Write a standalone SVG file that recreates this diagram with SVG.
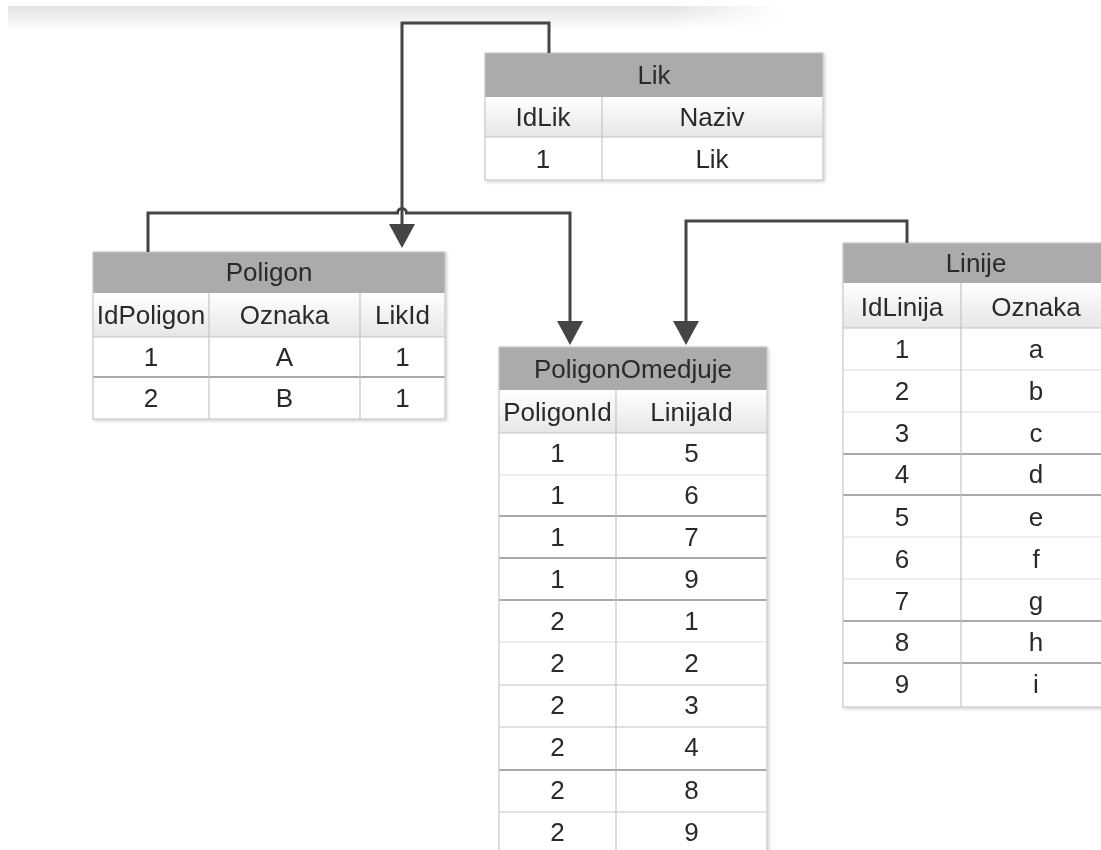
<svg xmlns="http://www.w3.org/2000/svg" width="1101" height="850" viewBox="0 0 1101 850">
<defs>
<linearGradient id="sub" x1="0" y1="0" x2="0" y2="1">
<stop offset="0" stop-color="#ffffff"/>
<stop offset="1" stop-color="#e6e6e6"/>
</linearGradient>
<linearGradient id="band" x1="0" y1="0" x2="0" y2="1">
<stop offset="0" stop-color="#e2e2e2"/>
<stop offset="1" stop-color="#ffffff"/>
</linearGradient>
<linearGradient id="bandx" x1="0" y1="0" x2="1" y2="0">
<stop offset="0" stop-color="#ffffff" stop-opacity="0"/>
<stop offset="0.85" stop-color="#ffffff" stop-opacity="0"/>
<stop offset="1" stop-color="#ffffff" stop-opacity="1"/>
</linearGradient>
<filter id="sh" x="-5%" y="-5%" width="110%" height="110%">
<feDropShadow dx="1.5" dy="1.5" stdDeviation="1.5" flood-color="#000" flood-opacity="0.18"/>
</filter>
<marker id="arr" viewBox="0 0 24 26" refX="16" refY="13" markerWidth="24" markerHeight="26" markerUnits="userSpaceOnUse" orient="auto">
<path d="M0,0 L24,13 L0,26 z" fill="#454545"/>
</marker>
</defs>
<style>
text{font-family:"Liberation Sans",Arial,sans-serif;font-size:26px;fill:#2a2a2a;text-anchor:middle}
.hd{fill:#ababab}
.sb{fill:url(#sub)}
.bd{fill:#ffffff}
.cl{stroke:#c4c4c4;stroke-width:1.2}
.rl{stroke:#8c8c8c;stroke-width:1.3}
.fl{stroke:#dedede;stroke-width:1}
.ob{fill:none;stroke:#c8c8c8;stroke-width:1.2}
.con{fill:none;stroke:#454545;stroke-width:3}
</style>
<rect x="8" y="6" width="775" height="24" fill="url(#band)"/>
<rect x="8" y="6" width="775" height="24" fill="url(#bandx)"/>

<g id="lik" filter="url(#sh)">
<rect class="bd" x="485" y="53" width="338" height="127"/>
<rect class="hd" x="485" y="53" width="338" height="44"/>
<rect class="sb" x="485" y="97" width="338" height="40"/>
<line class="cl" x1="485" y1="137" x2="823" y2="137"/>
<line class="cl" x1="602" y1="97" x2="602" y2="180"/>
<rect class="ob" x="485" y="53" width="338" height="127"/>
<text x="654" y="84">Lik</text>
<text x="543" y="126">IdLik</text>
<text x="712" y="126">Naziv</text>
<text x="543" y="168">1</text>
<text x="712" y="168">Lik</text>
</g>

<g id="poligon" filter="url(#sh)">
<rect class="bd" x="93" y="252" width="352" height="167"/>
<rect class="hd" x="93" y="252" width="352" height="41"/>
<rect class="sb" x="93" y="293" width="352" height="44"/>
<line class="cl" x1="93" y1="337" x2="445" y2="337"/>
<line class="rl" x1="93" y1="377" x2="445" y2="377"/>
<line class="cl" x1="209" y1="293" x2="209" y2="419"/>
<line class="cl" x1="360" y1="293" x2="360" y2="419"/>
<rect class="ob" x="93" y="252" width="352" height="167"/>
<text x="269" y="281">Poligon</text>
<text x="151" y="324">IdPoligon</text>
<text x="284.5" y="324">Oznaka</text>
<text x="402.5" y="324">LikId</text>
<text x="151" y="366">1</text>
<text x="284.5" y="366">A</text>
<text x="402.5" y="366">1</text>
<text x="151" y="407">2</text>
<text x="284.5" y="407">B</text>
<text x="402.5" y="407">1</text>
</g>

<g id="poligonomedjuje" filter="url(#sh)">
<rect class="bd" x="499" y="347" width="268" height="510"/>
<rect class="hd" x="499" y="347" width="268" height="43"/>
<rect class="sb" x="499" y="390" width="268" height="43"/>
<line class="cl" x1="499" y1="433" x2="767" y2="433"/>
<line class="fl" x1="499" y1="475" x2="767" y2="475"/>
<line class="rl" x1="499" y1="516" x2="767" y2="516"/>
<line class="rl" x1="499" y1="558" x2="767" y2="558"/>
<line class="rl" x1="499" y1="600" x2="767" y2="600"/>
<line class="fl" x1="499" y1="642" x2="767" y2="642"/>
<line class="cl" x1="499" y1="685" x2="767" y2="685"/>
<line class="cl" x1="499" y1="727" x2="767" y2="727"/>
<line class="rl" x1="499" y1="770" x2="767" y2="770"/>
<line class="cl" x1="499" y1="812" x2="767" y2="812"/>
<line class="cl" x1="616" y1="390" x2="616" y2="857"/>
<rect class="ob" x="499" y="347" width="268" height="510"/>
<text x="633" y="378">PoligonOmedjuje</text>
<text x="557.5" y="421">PoligonId</text>
<text x="691.5" y="421">LinijaId</text>
<text x="557.5" y="462">1</text><text x="691.5" y="462">5</text>
<text x="557.5" y="504">1</text><text x="691.5" y="504">6</text>
<text x="557.5" y="546">1</text><text x="691.5" y="546">7</text>
<text x="557.5" y="588">1</text><text x="691.5" y="588">9</text>
<text x="557.5" y="630">2</text><text x="691.5" y="630">1</text>
<text x="557.5" y="672">2</text><text x="691.5" y="672">2</text>
<text x="557.5" y="714">2</text><text x="691.5" y="714">3</text>
<text x="557.5" y="756">2</text><text x="691.5" y="756">4</text>
<text x="557.5" y="799">2</text><text x="691.5" y="799">8</text>
<text x="557.5" y="841">2</text><text x="691.5" y="841">9</text>
</g>

<g id="linije" filter="url(#sh)">
<rect class="bd" x="843" y="243" width="270" height="464"/>
<rect class="hd" x="843" y="243" width="270" height="40"/>
<rect class="sb" x="843" y="283" width="270" height="45"/>
<line class="cl" x1="843" y1="328" x2="1113" y2="328"/>
<line class="fl" x1="843" y1="370" x2="1113" y2="370"/>
<line class="fl" x1="843" y1="412" x2="1113" y2="412"/>
<line class="rl" x1="843" y1="454" x2="1113" y2="454"/>
<line class="rl" x1="843" y1="495" x2="1113" y2="495"/>
<line class="fl" x1="843" y1="537" x2="1113" y2="537"/>
<line class="fl" x1="843" y1="579" x2="1113" y2="579"/>
<line class="rl" x1="843" y1="621" x2="1113" y2="621"/>
<line class="rl" x1="843" y1="663" x2="1113" y2="663"/>
<line class="cl" x1="961" y1="283" x2="961" y2="707"/>
<rect class="ob" x="843" y="243" width="270" height="464"/>
<text x="976" y="272">Linije</text>
<text x="902" y="316">IdLinija</text>
<text x="1036" y="316">Oznaka</text>
<text x="902" y="358">1</text><text x="1036" y="358">a</text>
<text x="902" y="400">2</text><text x="1036" y="400">b</text>
<text x="902" y="442">3</text><text x="1036" y="442">c</text>
<text x="902" y="483">4</text><text x="1036" y="483">d</text>
<text x="902" y="526">5</text><text x="1036" y="526">e</text>
<text x="902" y="568">6</text><text x="1036" y="568">f</text>
<text x="902" y="610">7</text><text x="1036" y="610">g</text>
<text x="902" y="651">8</text><text x="1036" y="651">h</text>
<text x="902" y="693">9</text><text x="1036" y="693">i</text>
</g>

<g id="connectors">
<path class="con" d="M549,53 V23 H402 V240" marker-end="url(#arr)"/>
<path class="con" d="M148,252 V213 H397.5 A4.5,4.5 0 0 1 406.5,213 H570 V337" marker-end="url(#arr)"/>
<path class="con" d="M907,243 V221 H686 V337" marker-end="url(#arr)"/>
</g>
</svg>
